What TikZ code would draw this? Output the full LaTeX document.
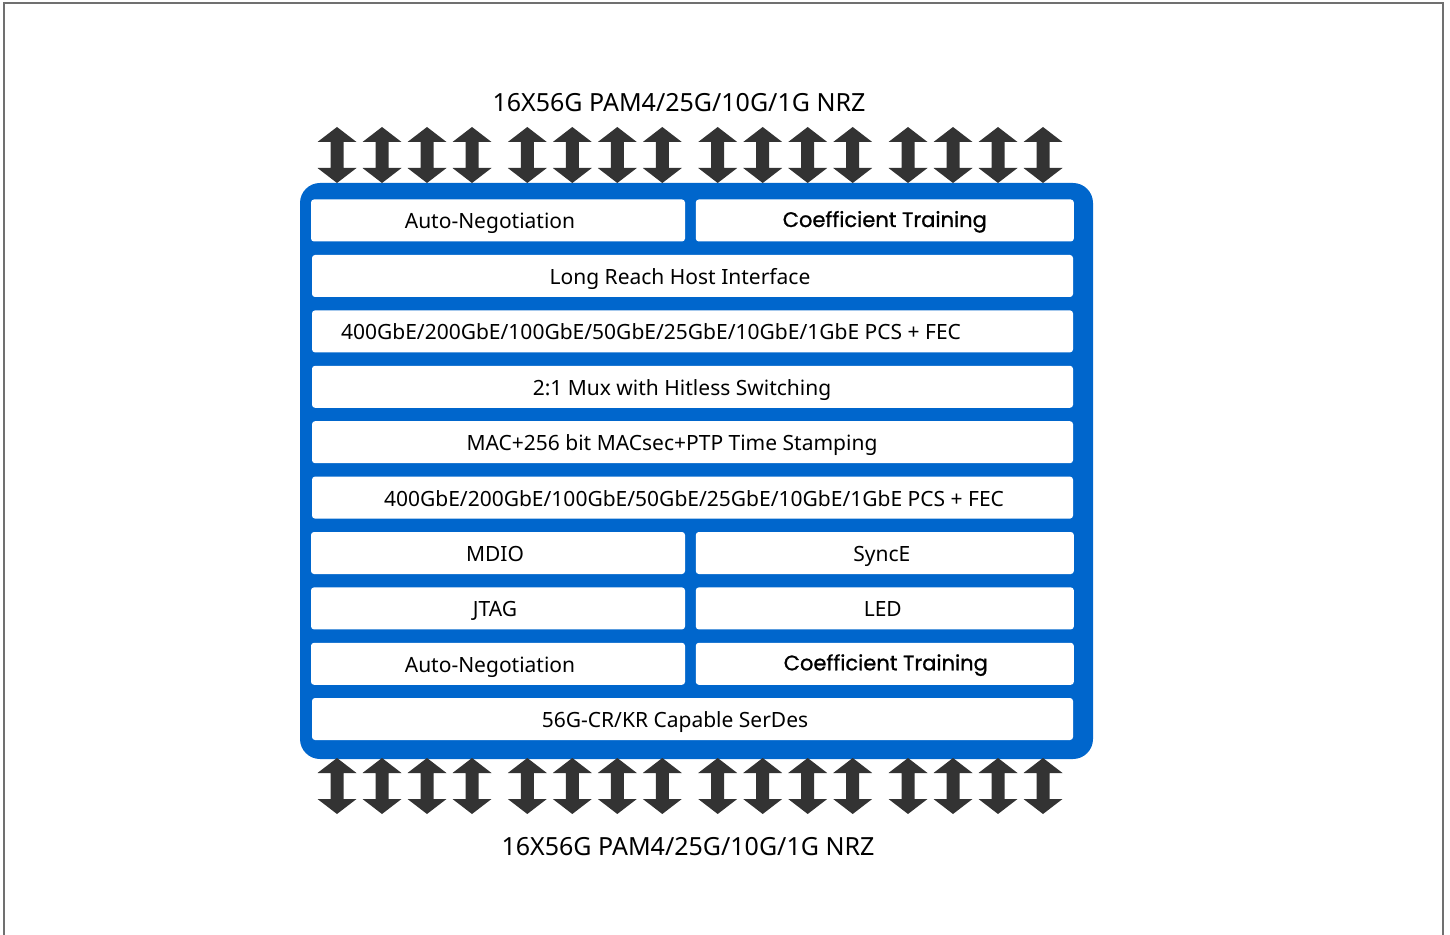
\documentclass[tikz,border=0pt]{standalone}
\usepackage{fontspec}
\setmainfont{Noto Sans}
\newfontfamily\coefffont{Poppins}[FakeBold=1]
\usetikzlibrary{positioning}
\definecolor{chipblue}{RGB}{0,102,204}
\definecolor{pingray}{RGB}{51,51,51}
\definecolor{framegray}{RGB}{112,112,112}

\begin{document}
\begin{tikzpicture}
    [x=0.5pt,y=-0.5pt,
chipbox/.style={rectangle, rounded corners=10pt, fill=chipblue, minimum width=396.5pt, minimum height=288pt, inner sep=0pt},
cellbox/.style={rectangle, rounded corners=1.5pt, fill=white, minimum height=21pt, inner sep=0pt},
cellwide/.style={cellbox, minimum width=380.5pt},cellleft/.style={cellbox, minimum width=187pt},cellright/.style={cellbox, minimum width=189pt},
celltext/.style={inner sep=0pt, text height=7.5pt, text depth=0pt, font=\fontsize{10.5}{12}\selectfont},
cointext/.style={inner sep=0pt, text height=7.5pt, text depth=0pt, font=\coefffont\fontsize{10.5}{12}\selectfont},
portlabel/.style={inner sep=0pt, text height=9pt, text depth=0pt, font=\fontsize{12.5}{14}\selectfont}
]

\path[use as bounding box] (0,0) rectangle (1450,935);
\draw[framegray,line width=0.75pt] (4,935) -- (4,3) -- (1443,3) -- (1443,935);

\node[chipbox](chip) at (696.5,471) {};

\node[cellleft](autonegA) at (498,220.5) {};
\node[cellright](coeffA)[right=5pt of autonegA] {};
\node[cellwide](lrhi) at (692.5,276) {};
\node[cellwide](pcsA)[below=6.3pt of lrhi] {};
\node[cellwide](mux)[below=6.3pt of pcsA] {};
\node[cellwide](mac)[below=6.3pt of mux] {};
\node[cellwide](pcsB)[below=6.3pt of mac] {};
\node[cellleft](mdio) at (498,553) {};
\node[cellright](synce)[right=5pt of mdio] {};
\node[cellleft](jtag)[below=6.3pt of mdio] {};
\node[cellright](led)[right=5pt of jtag] {};
\node[cellleft](autonegB)[below=6.3pt of jtag] {};
\node[cellright](coeffB)[right=5pt of autonegB] {};
\node[cellwide](serdes) at (692.5,719) {};

\node[celltext](autonegAtext) at ([xshift=-4pt,yshift=-0.5pt]autonegA.center) {Auto-Negotiation};
\node[cointext](coeffAtext) at ([yshift=0.5pt]coeffA.center) {Coefficient Training};
\node[celltext](lrhitext) at ([xshift=-6.25pt,yshift=-0.5pt]lrhi.center) {Long Reach Host Interface};
\node[celltext](pcsAtext) at ([xshift=-20.75pt,yshift=-0.5pt]pcsA.center) {400GbE/200GbE/100GbE/50GbE/25GbE/10GbE/1GbE PCS + FEC};
\node[celltext](muxtext) at ([xshift=-5.25pt,yshift=-0.5pt]mux.center) {2:1 Mux with Hitless Switching};
\node[celltext](mactext) at ([xshift=-10.25pt,yshift=-0.5pt]mac.center) {MAC+256 bit MACsec+PTP Time Stamping};
\node[celltext](pcsBtext) at ([xshift=0.75pt,yshift=-0.5pt]pcsB.center) {400GbE/200GbE/100GbE/50GbE/25GbE/10GbE/1GbE PCS + FEC};
\node[celltext](mdiotext) at ([xshift=-1.5pt,yshift=-0.5pt]mdio.center) {MDIO};
\node[celltext](syncetext) at ([xshift=-1.5pt,yshift=-0.5pt]synce.center) {SyncE};
\node[celltext](jtagtext) at ([xshift=-1.5pt,yshift=-0.5pt]jtag.center) {JTAG};
\node[celltext](ledtext) at ([xshift=-1pt,yshift=-0.5pt]led.center) {LED};
\node[celltext](autonegBtext) at ([xshift=-4pt,yshift=-0.5pt]autonegB.center) {Auto-Negotiation};
\node[cointext](coeffBtext) at ([xshift=0.5pt,yshift=0.5pt]coeffB.center) {Coefficient Training};
\node[celltext](serdestext) at ([xshift=-8.75pt,yshift=-0.5pt]serdes.center) {56G-CR/KR Capable SerDes};

% pins, four groups of four, above and below
\foreach \y in {127,758}{
\foreach \gx in {337,527.3,717.7,908}{
\foreach \i in {0,...,3}{
\fill[pingray] ({\gx+45*\i},\y) -- ++(19.5,15) -- ++(-13,0) -- ++(0,26) -- ++(13,0) -- ++(-19.5,15)
    -- ++(-19.5,-15) -- ++(13,0) -- ++(0,-26) -- ++(-13,0) -- cycle;
}}}

\node[portlabel](toplabel) at (679,103) {16X56G PAM4/25G/10G/1G NRZ};
\node[portlabel](bottomlabel) at (688,846) {16X56G PAM4/25G/10G/1G NRZ};

\end{tikzpicture}
\end{document}
